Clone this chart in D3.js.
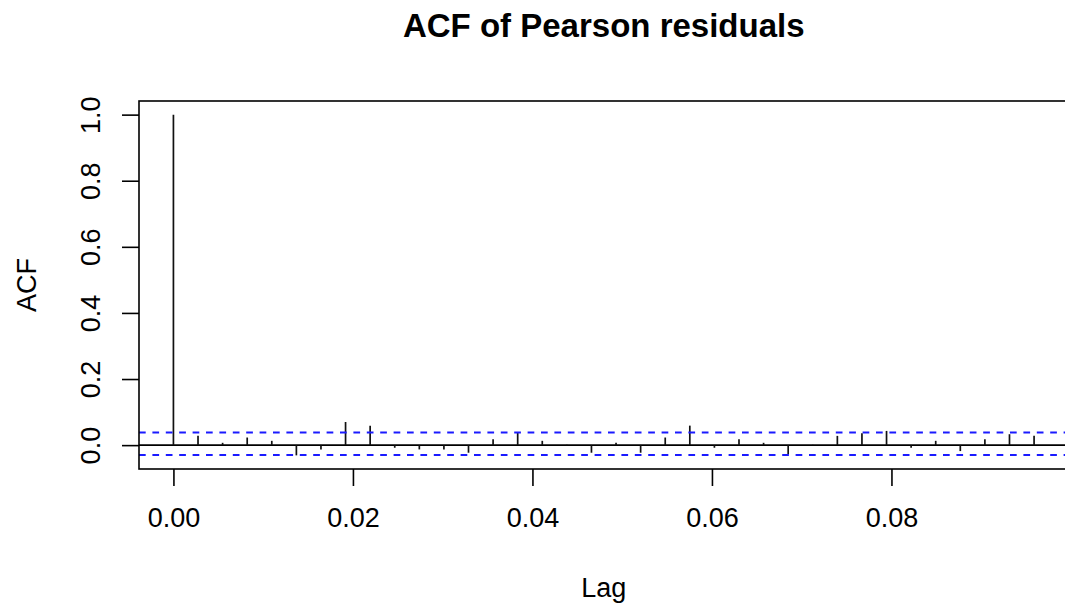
<!DOCTYPE html>
<html>
<head>
<meta charset="utf-8">
<script src="https://cdn.jsdelivr.net/npm/d3@7"></script>
<style>
  html, body { margin: 0; padding: 0; background: #fff; }
  svg { display: block; }
  text { font-family: "Liberation Sans", Arial, sans-serif; fill: #000; }
</style>
</head>
<body>
<svg id="chart" width="1065" height="606"></svg>
<script>
// ---- data ----
const lagStep = 1 / 365;
const lagIndex = d3.range(0, 36);
const acfValues = [
  1.000, 0.028, 0.007, 0.023, 0.013, -0.031, -0.013, 0.070, 0.059, -0.008,
  -0.013, -0.013, -0.023, 0.018, 0.037, 0.013, 0.001, -0.023, 0.007, -0.023,
  0.023, 0.059, -0.008, 0.018, 0.007, -0.028, 0.001, 0.028, 0.036, 0.043,
  -0.008, 0.013, -0.018, 0.018, 0.033, 0.028
];
const ciUpper = 0.038;
const ciLower = -0.030;
const xTicks = [0.00, 0.02, 0.04, 0.06, 0.08];
const yTicks = [0.0, 0.2, 0.4, 0.6, 0.8, 1.0];
const titleText = "ACF of Pearson residuals";
const xLabel = "Lag";
const yLabel = "ACF";

// ---- layout ----
const svg = d3.select("#chart");
const plot = { left: 139, right: 1068.5, top: 101, bottom: 469 };

const lags = lagIndex.map(k => k * lagStep);
const lagMax = d3.max(lags);
const xExt = 0.04 * lagMax;
const x = d3.scaleLinear().domain([-xExt, lagMax + xExt]).range([plot.left, plot.right]);

const yMin = Math.min(d3.min(acfValues), ciLower), yMax = Math.max(d3.max(acfValues), ciUpper);
const yExt = 0.04 * (yMax - yMin);
const y = d3.scaleLinear().domain([yMin - yExt, yMax + yExt]).range([plot.bottom, plot.top]);

svg.append("rect").attr("width", 1065).attr("height", 606).attr("fill", "#fff");

// zero line
svg.append("line")
  .attr("x1", plot.left).attr("x2", plot.right)
  .attr("y1", y(0)).attr("y2", y(0))
  .attr("stroke", "#000").attr("stroke-width", 1.6);

// bars
svg.append("g").selectAll("line").data(lagIndex).join("line")
  .attr("x1", k => x(lags[k])).attr("x2", k => x(lags[k]))
  .attr("y1", y(0)).attr("y2", k => y(acfValues[k]))
  .attr("stroke", "#111").attr("stroke-width", 1.7);

// confidence lines
[ciUpper, ciLower].forEach(v => {
  svg.append("line")
    .attr("x1", plot.left).attr("x2", plot.right)
    .attr("y1", y(v)).attr("y2", y(v))
    .attr("stroke", "#1a1aff").attr("stroke-width", 2)
    .attr("stroke-dasharray", "6.7,6.7");
});

// box
svg.append("rect")
  .attr("x", plot.left).attr("y", plot.top)
  .attr("width", plot.right - plot.left).attr("height", plot.bottom - plot.top)
  .attr("fill", "none").attr("stroke", "#000").attr("stroke-width", 1.6);

// x axis
const xAxis = d3.axisBottom(x).tickValues(xTicks).tickFormat(d3.format(".2f")).tickSize(17).tickPadding(22);
const gx = svg.append("g").attr("transform", `translate(0,${plot.bottom})`).call(xAxis);
gx.select(".domain").remove();
gx.selectAll(".tick line").attr("stroke", "#000").attr("stroke-width", 1.6);
gx.selectAll(".tick text").attr("font-size", 27).attr("font-family", "Liberation Sans, Arial, sans-serif").attr("fill", "#000");

// y axis
const yAxis = d3.axisLeft(y).tickValues(yTicks).tickFormat(d3.format(".1f")).tickSize(17).tickPadding(0);
const gy = svg.append("g").attr("transform", `translate(${plot.left},0)`).call(yAxis);
gy.select(".domain").remove();
gy.selectAll(".tick line").attr("stroke", "#000").attr("stroke-width", 1.6);
gy.selectAll(".tick text")
  .attr("font-size", 27).attr("font-family", "Liberation Sans, Arial, sans-serif").attr("fill", "#000")
  .attr("x", null).attr("dy", null)
  .attr("text-anchor", "middle")
  .attr("transform", "translate(-39,0) rotate(-90)");

// title
svg.append("text")
  .attr("x", (plot.left + plot.right) / 2).attr("y", 37)
  .attr("text-anchor", "middle").attr("font-weight", "bold").attr("font-size", 33)
  .text(titleText);

// axis titles
svg.append("text")
  .attr("x", (plot.left + plot.right) / 2).attr("y", 597)
  .attr("text-anchor", "middle").attr("font-size", 27)
  .text(xLabel);

svg.append("text")
  .attr("transform", `translate(36,${(plot.top + plot.bottom) / 2}) rotate(-90)`)
  .attr("text-anchor", "middle").attr("font-size", 27)
  .text(yLabel);
</script>
</body>
</html>
